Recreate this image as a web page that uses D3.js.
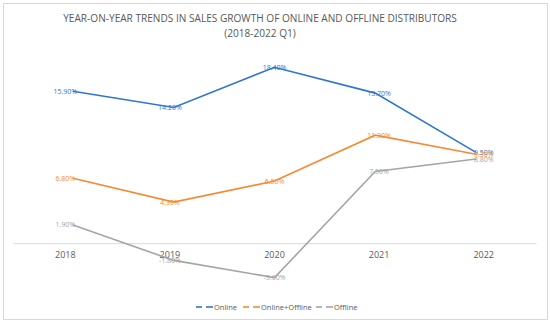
<!DOCTYPE html>
<html>
<head>
<meta charset="utf-8">
<script src="https://cdn.jsdelivr.net/npm/d3@7"></script>
<style>
  body { margin: 0; background: #fff; }
  text { font-family: "Open Sans", sans-serif; }
</style>
</head>
<body>
<script>
var WIDTH = 550;
var HEIGHT = 326;

// data
var years = ["2018", "2019", "2020", "2021", "2022"];
var online = [15.9, 14.2, 18.4, 15.7, 9.5];
var onlineOffline = [6.8, 4.3, 6.5, 11.3, 9.3];
var offline = [1.9, -1.8, -3.6, 7.5, 8.8];
var seriesNames = ["Online", "Online+Offline", "Offline"];
var colors = ["#2e75d0", "#f58a33", "#a5a5a5"];
var titleLines = ["YEAR-ON-YEAR TRENDS IN SALES GROWTH OF ONLINE AND OFFLINE DISTRIBUTORS", "(2018-2022 Q1)"];

var svg = d3.select("body")
  .append("svg")
  .attr("width", WIDTH)
  .attr("height", HEIGHT);

// chart border
svg.append("rect")
  .attr("x", 3.5).attr("y", 3.5)
  .attr("width", 544).attr("height", 316)
  .attr("fill", "#fff")
  .attr("stroke", "#d9d9d9");

// title
svg.selectAll(".title")
  .data(titleLines)
  .enter()
  .append("text")
  .attr("class", "title")
  .attr("x", 260)
  .attr("y", function (d, i) { return 22 + i * 15; })
  .attr("text-anchor", "middle")
  .attr("fill", "#595959")
  .style("font-size", "10.1px")
  .text(function (d) { return d; });

// scales: category bands for labels, points for the lines
var xBand = d3.scaleBand().domain(years).range([13, 536]);
var xLine = d3.scalePoint().domain(years).range([73, 476]);
var y = d3.scaleLinear().domain([-5, 20]).range([291, 52]);

// zero line / category axis
var xAxis = svg.append("g")
  .attr("transform", "translate(0," + y(0) + ")")
  .call(d3.axisBottom(xBand).tickSize(0).tickPadding(8));
xAxis.select(".domain").attr("stroke", "#d9d9d9");
xAxis.selectAll("text")
  .attr("fill", "#595959")
  .style("font-size", "9px")
  .style("font-family", "'Open Sans', sans-serif");

var series = [online, onlineOffline, offline];

var line = d3.line()
  .x(function (d, i) { return xLine(years[i]); })
  .y(function (d) { return y(d); });

series.forEach(function (vals, s) {
  svg.append("path")
    .datum(vals)
    .attr("fill", "none")
    .attr("stroke", colors[s])
    .attr("stroke-width", 1.6)
    .attr("d", line);
});

// data labels, centred on the category
series.forEach(function (vals, s) {
  svg.selectAll(".lbl" + s)
    .data(vals)
    .enter()
    .append("text")
    .attr("class", "lbl" + s)
    .attr("x", function (d, i) { return xBand(years[i]) + xBand.bandwidth() / 2; })
    .attr("y", function (d) { return y(d); })
    .attr("dy", "0.35em")
    .attr("text-anchor", "middle")
    .attr("fill", colors[s])
    .style("font-size", "7px")
    .text(function (d) { return d.toFixed(2) + "%"; });
});

// legend
var legendX = [196, 243, 316];
var legend = svg.selectAll(".legend")
  .data(seriesNames)
  .enter()
  .append("g")
  .attr("class", "legend")
  .attr("transform", function (d, i) { return "translate(" + legendX[i] + ",307)"; });

legend.append("line")
  .attr("x1", 0).attr("x2", 6)
  .attr("stroke", function (d, i) { return colors[i]; })
  .attr("stroke-width", 1.6);
legend.append("line")
  .attr("x1", 10).attr("x2", 17)
  .attr("stroke", function (d, i) { return colors[i]; })
  .attr("stroke-width", 1.6);
legend.append("text")
  .attr("x", 18)
  .attr("dy", "0.35em")
  .attr("fill", "#595959")
  .style("font-size", "7.5px")
  .text(function (d) { return d; });
</script>
</body>
</html>
